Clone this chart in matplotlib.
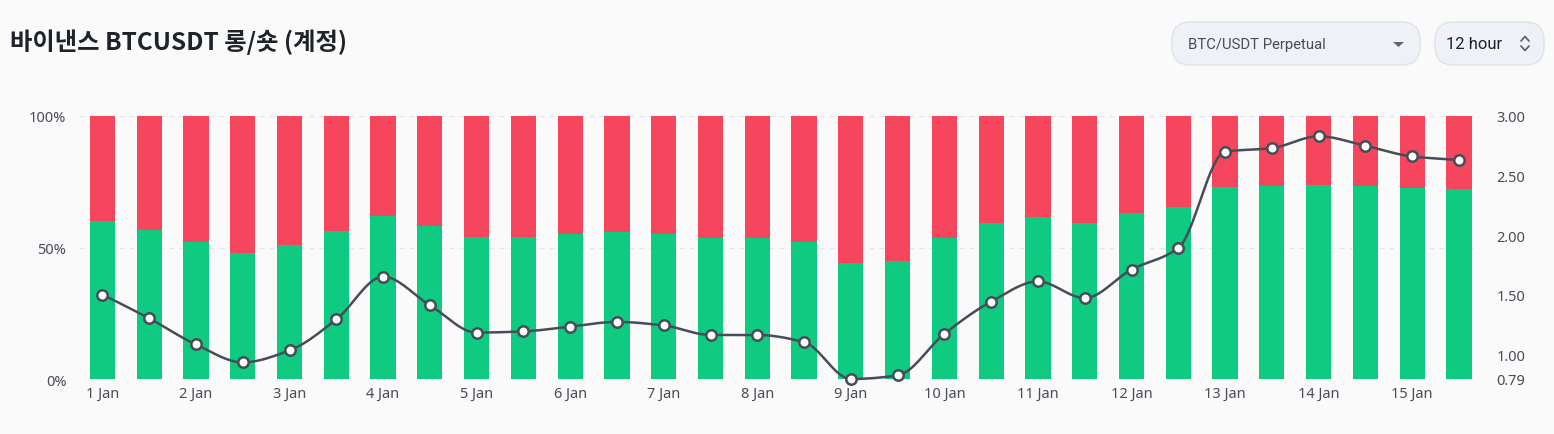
import numpy as np
import matplotlib
matplotlib.use("Agg")
import matplotlib.pyplot as plt
from matplotlib.patches import FancyBboxPatch, Polygon
from matplotlib.lines import Line2D

plt.rcParams['font.family'] = ['Noto Sans', 'Noto Sans CJK KR', 'DejaVu Sans']

title = "바이낸스 BTCUSDT 롱/숏 (계정)"
tick_labels = ["1 Jan", "2 Jan", "3 Jan", "4 Jan", "5 Jan", "6 Jan", "7 Jan", "8 Jan",
               "9 Jan", "10 Jan", "11 Jan", "12 Jan", "13 Jan", "14 Jan", "15 Jan"]
long_pct = [60.1, 56.7, 52.1, 47.9, 51.0, 56.3, 62.0, 58.2, 54.0, 54.0,
            55.1, 55.9, 55.1, 53.6, 53.6, 52.1, 44.1, 44.9, 53.6, 59.3,
            61.6, 59.3, 63.1, 65.4, 73.0, 73.4, 73.8, 73.4, 72.6, 72.2]
ratio = [1.50, 1.30, 1.08, 0.93, 1.03, 1.29, 1.65, 1.41, 1.18, 1.19,
         1.23, 1.27, 1.24, 1.16, 1.16, 1.10, 0.79, 0.82, 1.17, 1.44,
         1.61, 1.47, 1.71, 1.89, 2.70, 2.73, 2.83, 2.75, 2.66, 2.63]
right_ticks = [0.79, 1.00, 1.50, 2.00, 2.50, 3.00]
left_ticks = [0, 50, 100]

GREEN = "#0ECB81"
RED = "#F6465D"
LINE = "#474D57"
BG = "#FAFAFA"
TXT = "#1E2329"
TICK = "#474D57"

def monotone(x, y, n=20):
    x = np.asarray(x, float); y = np.asarray(y, float)
    h = np.diff(x); d = np.diff(y) / h
    m = np.zeros_like(y)
    m[0] = d[0]; m[-1] = d[-1]
    for i in range(1, len(y) - 1):
        if d[i-1] * d[i] <= 0:
            m[i] = 0
        else:
            w1 = 2*h[i] + h[i-1]; w2 = h[i] + 2*h[i-1]
            m[i] = (w1 + w2) / (w1/d[i-1] + w2/d[i])
    xs, ys = [], []
    for i in range(len(x) - 1):
        t = np.linspace(0, 1, n, endpoint=False)
        h00 = 2*t**3 - 3*t**2 + 1; h10 = t**3 - 2*t**2 + t
        h01 = -2*t**3 + 3*t**2; h11 = t**3 - t**2
        xs.append(x[i] + t*h[i])
        ys.append(h00*y[i] + h10*h[i]*m[i] + h01*y[i+1] + h11*h[i]*m[i+1])
    xs.append([x[-1]]); ys.append([y[-1]])
    return np.concatenate(xs), np.concatenate(ys)

fig = plt.figure(figsize=(15.54, 4.35), dpi=100)
fig.patch.set_facecolor(BG)
W, H = 1554, 435
ax = fig.add_axes([79/W, 1 - 380/H, (1480-79)/W, (380-117)/H])
ax.set_facecolor(BG)
x = np.arange(len(long_pct))
lp = np.array(long_pct)
ax.bar(x, lp, width=0.54, color=GREEN, zorder=2)
ax.bar(x, 100 - lp, bottom=lp, width=0.54, color=RED, zorder=2)
ax.set_ylim(0, 100)
ax.set_xlim(-0.5, 29.45)
ax.set_yticks(left_ticks)
ax.set_yticklabels([f"{v}%" for v in left_ticks])
for v in left_ticks:
    ax.axhline(v, color="#E3E5E8", lw=0.9, ls=(0, (4, 4)), zorder=1)
ax.set_xticks(x[::2])
ax.set_xticklabels(tick_labels)
for s in ax.spines.values():
    s.set_visible(False)
ax.tick_params(axis='both', length=0, labelsize=10.5, colors=TICK)
ax.tick_params(axis='y', pad=9)
ax.tick_params(axis='x', pad=5)

ax2 = ax.twinx()
ax2.set_ylim(0.79, 3.00)
ax2.set_yticks(right_ticks)
ax2.set_yticklabels([f"{v:.2f}" for v in right_ticks])
for s in ax2.spines.values():
    s.set_visible(False)
ax2.tick_params(axis='y', length=0, labelsize=10.5, colors=TICK, pad=12)
xs, ys = monotone(x, ratio)
ax2.plot(xs, ys, color=LINE, lw=1.8, zorder=3, clip_on=False)
ax2.plot(x, ratio, ls='none', marker='o', ms=7.5, mfc='white', mec=LINE, mew=1.8,
         zorder=4, clip_on=False)

fig.text(10/W, 1 - 42/H, title, fontsize=17.5, fontweight='bold', color=TXT,
         va='center', ha='left', family=['Noto Sans CJK KR', 'DejaVu Sans'])

def box(x0, y0, x1, y1):
    p = FancyBboxPatch((x0/W, 1 - y1/H), (x1-x0)/W, (y1-y0)/H,
                       boxstyle="round,pad=0,rounding_size=0.012",
                       transform=fig.transFigure, facecolor="#EEF1F5",
                       edgecolor="#DDE3EA", lw=1, mutation_aspect=W/H)
    fig.patches.append(p)

def fp(px, py):
    return (px / W, 1 - py / H)

box(1172, 23, 1420, 66)
box(1435, 23, 1544, 66)
fig.text(1188/W, 1 - 44.5/H, "BTC/USDT Perpetual", fontsize=10.7, color=TICK,
         va='center', ha='left', family='Roboto')
fig.patches.append(Polygon([fp(1393, 43), fp(1404, 43), fp(1398.5, 48)], closed=True,
                           transform=fig.transFigure, facecolor="#5E6673", edgecolor='none'))
fig.text(1446/W, 1 - 44.5/H, "12 hour", fontsize=12, color=TXT,
         va='center', ha='left', family='Roboto')
for pts in ([(1521, 42), (1525, 37.5), (1529, 42)], [(1521, 47), (1525, 51.5), (1529, 47)]):
    xy = [fp(a, b) for a, b in pts]
    fig.lines.append(Line2D([p[0] for p in xy], [p[1] for p in xy], transform=fig.transFigure,
                            color="#5E6673", lw=1.3, solid_capstyle='round'))

fig.savefig("out.png", dpi=100, facecolor=BG)
